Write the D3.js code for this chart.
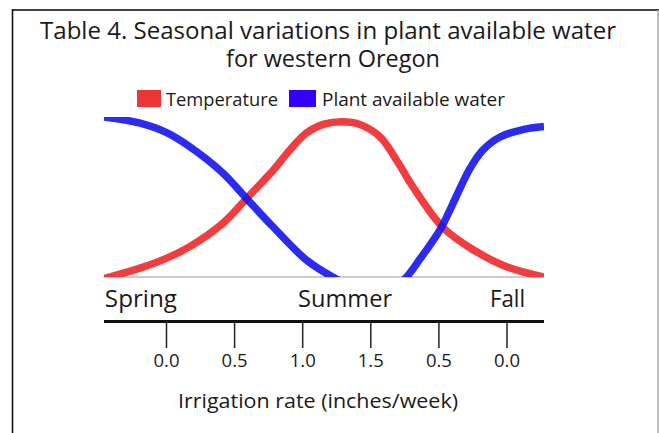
<!DOCTYPE html>
<html lang="en">
<head>
    <meta charset="UTF-8">
    <title>Seasonal variations in plant available water</title>
    <style>
        body { margin: 0; background: #fff; }
        text { font-family: "Open Sans", "Noto Sans", sans-serif; fill: #1a1a1a; }
    </style>
</head>
<body>
    <svg id="chart" width="659" height="433"></svg>

    <script src="https://d3js.org/d3.v7.min.js"></script>
    <script>
        // Series: x in season units (0 = spring, 100 = fall), y in relative units
        const tempX  = [0, 8, 14, 19.5, 27, 32.4, 35.5, 38.4, 42.3, 46, 50, 54, 58, 62.7, 66.5, 70.2, 77, 83.9, 91.5, 100];
        const tempY  = [-1, 5.4, 11.5, 19, 33.5, 49, 58, 66.5, 79.5, 90, 95.5, 97, 95.5, 87.7, 73, 56.4, 31, 17, 6.4, 0];
        const waterX = [0, 8, 14, 19.5, 27, 32.4, 38.4, 46, 52, 56, 62, 66, 68, 72, 76.6, 80, 83, 86, 90, 95, 100];
        const waterY = [100, 96.3, 90.5, 81.4, 65, 49, 31.4, 10.6, 0, -5, -6, -4, -2, 12, 30.6, 50, 67, 79, 87.5, 92, 94];

        const seriesNames = ["Temperature", "Plant available water"];
        const seasons = ["Spring", "Summer", "Fall"];
        const seasonPos = [0.2, 54.8, 95.7];
        const rateTicks = ["0.0", "0.5", "1.0", "1.5", "0.5", "0.0"];

        const svg = d3.select("#chart");

        // fit a text element to the width measured on the reference
        function fit(sel, w) {
            sel.attr("textLength", w).attr("lengthAdjust", "spacingAndGlyphs");
            return sel;
        }

        // frame lines
        svg.append("line").attr("x1", 12).attr("x2", 659).attr("y1", 10).attr("y2", 10)
            .attr("stroke", "#444").attr("stroke-width", 2);
        svg.append("line").attr("x1", 12.5).attr("x2", 12.5).attr("y1", 9).attr("y2", 433)
            .attr("stroke", "#111").attr("stroke-width", 1.6);
        svg.append("line").attr("x1", 658).attr("x2", 658).attr("y1", 10).attr("y2", 433)
            .attr("stroke", "#aaa").attr("stroke-width", 1.5);

        // title
        fit(svg.append("text").attr("x", 328).attr("y", 39).attr("text-anchor", "middle")
            .attr("font-size", 24).text("Table 4. Seasonal variations in plant available water"), 576);
        fit(svg.append("text").attr("x", 333).attr("y", 67).attr("text-anchor", "middle")
            .attr("font-size", 24).text("for western Oregon"), 214);

        // legend
        const legendColors = ["#ee3535", "#3300ff"];
        const legendItems = [
            { sx: 137, sw: 24, tx: 166, tw: 112 },
            { sx: 289, sw: 27, tx: 322, tw: 183 }
        ];
        legendItems.forEach((d, i) => {
            svg.append("rect").attr("x", d.sx).attr("y", 90).attr("width", d.sw).attr("height", 17)
                .attr("fill", legendColors[i]);
            fit(svg.append("text").attr("x", d.tx).attr("y", 106).attr("font-size", 19)
                .text(seriesNames[i]), d.tw);
        });

        // plot scales
        const x = d3.scaleLinear().domain([0, 100]).range([104, 544]);
        const y = d3.scaleLinear().domain([0, 100]).range([277, 117]);

        svg.append("clipPath").attr("id", "plot-clip")
            .append("rect").attr("x", 104).attr("y", 117).attr("width", 440).attr("height", 160);

        // baseline
        svg.append("line").attr("x1", x(0)).attr("x2", x(100)).attr("y1", y(0)).attr("y2", y(0))
            .attr("stroke", "#999").attr("stroke-width", 1.2);

        const line = d3.line()
            .x(d => x(d[0]))
            .y(d => y(d[1]))
            .curve(d3.curveCatmullRom.alpha(0.5));

        const plot = svg.append("g").attr("clip-path", "url(#plot-clip)");
        plot.append("path")
            .attr("d", line(d3.zip(tempX, tempY)))
            .attr("fill", "none").attr("stroke", "#f03333").attr("stroke-width", 7.5)
            .attr("stroke-opacity", 0.95);
        plot.append("path")
            .attr("d", line(d3.zip(waterX, waterY)))
            .attr("fill", "none").attr("stroke", "#1414f0").attr("stroke-width", 7.5)
            .attr("stroke-opacity", 0.9);

        // season labels
        const seasonAnchor = ["start", "middle", "end"];
        const seasonWidth = [72, 94, 35];
        seasons.forEach((s, i) => {
            fit(svg.append("text").attr("x", x(seasonPos[i])).attr("y", 307)
                .attr("text-anchor", seasonAnchor[i]).attr("font-size", 23).text(s), seasonWidth[i]);
        });

        // irrigation rate axis
        const rate = d3.scaleLinear().domain([0, rateTicks.length - 1]).range([166, 506.5]);
        const axis = d3.axisBottom(rate)
            .tickValues(d3.range(rateTicks.length))
            .tickFormat(i => rateTicks[i])
            .tickSize(26)
            .tickPadding(6)
            .tickSizeOuter(0);

        const ax = svg.append("g").attr("transform", "translate(0,322)").call(axis);
        ax.select(".domain").remove();
        ax.selectAll(".tick line").attr("stroke", "#222").attr("stroke-width", 1.5);
        ax.selectAll(".tick text")
            .attr("font-size", 18)
            .attr("fill", "#1a1a1a")
            .each(function() { fit(d3.select(this), 26); });
        ax.attr("font-family", null);

        svg.append("line").attr("x1", x(0)).attr("x2", x(100)).attr("y1", 321.5).attr("y2", 321.5)
            .attr("stroke", "#111").attr("stroke-width", 3);

        fit(svg.append("text").attr("x", 318).attr("y", 408).attr("text-anchor", "middle")
            .attr("font-size", 20).text("Irrigation rate (inches/week)"), 280);
    </script>
</body>
</html>
